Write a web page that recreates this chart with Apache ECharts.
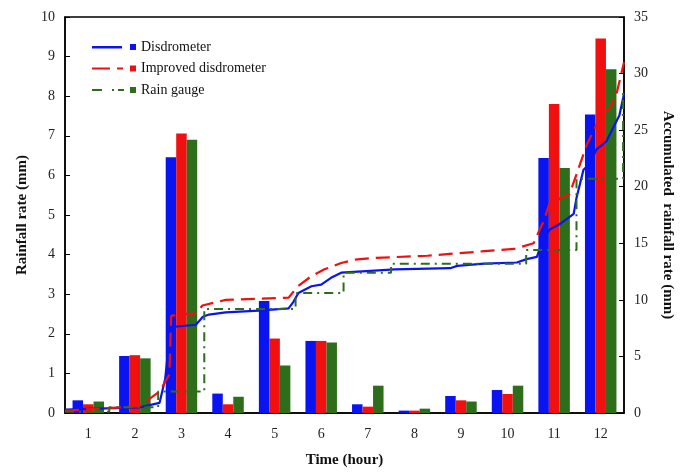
<!DOCTYPE html>
<html><head><meta charset="utf-8">
<script src="https://cdn.jsdelivr.net/npm/echarts@6/dist/echarts.min.js"></script>
<style>html,body{margin:0;padding:0;background:#fff}#c{width:683px;height:473px}</style>
</head><body><div id="c"></div>
<script>
const hours = ['1','2','3','4','5','6','7','8','9','10','11','12'];
const leftTicks = [0,1,2,3,4,5,6,7,8,9,10];
const rightTicks = [0,5,10,15,20,25,30,35];
// hourly rainfall (mm)
const disdroRate = [0.32,1.44,6.46,0.49,2.83,1.82,0.22,0.06,0.43,0.58,6.44,7.54];
const improvedRate = [0.22,1.46,7.06,0.22,1.88,1.82,0.16,0.06,0.32,0.48,7.80,9.46];
const gaugeRate = [0.29,1.38,6.90,0.41,1.20,1.78,0.69,0.11,0.29,0.69,6.19,8.68];
// accumulated rainfall [time (h), mm]
const disdroAcc = [[0,0.3],[1.6,0.5],[2.03,0.9],[2.15,3.0],[2.24,6.5],[2.3,7.6],[2.81,7.8],[2.96,8.5],[3.09,8.7],[3.45,8.9],[4.16,9.05],[4.8,9.25],[4.9,9.8],[5.01,10.6],[5.29,11.2],[5.5,11.35],[5.71,11.95],[5.93,12.4],[6.29,12.5],[7.08,12.7],[8.27,12.8],[8.42,13.0],[9.0,13.2],[9.7,13.3],[9.91,13.6],[10.13,13.8],[10.23,15.0],[10.4,16.2],[10.66,16.8],[10.92,17.6],[10.98,19.0],[11.13,21.5],[11.26,22.0],[11.41,23.3],[11.62,24.0],[11.73,24.9],[11.9,26.3],[12.0,28.2]];
const improvedAcc = [[0,0.2],[1.6,0.6],[2.03,1.9],[2.24,3.4],[2.28,8.6],[2.8,8.8],[2.95,9.5],[3.45,10.0],[4.8,10.2],[5.0,11.2],[5.29,12.1],[5.57,12.7],[5.93,13.26],[6.22,13.55],[6.6,13.7],[7.78,13.9],[9.0,14.3],[9.64,14.5],[10.06,15.0],[10.2,16.3],[10.28,17.0],[10.4,18.5],[10.83,19.35],[10.98,21.1],[11.2,23.7],[11.34,24.9],[11.47,26.0],[11.68,26.9],[11.83,28.05],[12.0,31.0]];
const gaugeAcc = [[0,0.1],[0.95,0.1],[0.95,0.5],[2.0,0.5],[2.0,1.9],[2.99,1.9],[2.99,9.2],[4.95,9.2],[4.95,10.6],[5.98,10.6],[5.98,12.4],[7.0,12.4],[7.0,13.2],[9.9,13.2],[9.9,14.4],[10.98,14.4],[10.98,20.7],[11.98,20.7],[11.98,28.5]];
const names = ['Disdrometer','Improved disdrometer','Rain gauge'];

const FONT = "'Liberation Serif','Times New Roman',serif";
const BLUE = '#0a14f0', RED = '#f01010', GREEN = '#2e6e1a';

const chart = echarts.init(document.getElementById('c'));
const barBase = {type:'bar', xAxisIndex:0, yAxisIndex:0, barWidth:10.5, barGap:'0%'};
chart.setOption({
  animation:false,
  grid:{left:65,right:55,top:17,bottom:54,show:true,borderColor:'#000',borderWidth:1.5,backgroundColor:'transparent'},
  legend:{
    orient:'vertical', left:92, top:40, padding:0, itemWidth:44, itemHeight:6, itemGap:7.5,
    textStyle:{fontFamily:FONT,fontSize:14,color:'#111'},
    itemStyle:{borderWidth:0},
    data:[
      {name:names[0], icon:'path://M0 2h30v2.5H0z M38 0h6v6h-6z'},
      {name:names[1], icon:'path://M0 2h18v2H0z M25 2h6v2h-6z M38 0h6v6h-6z'},
      {name:names[2], icon:'path://M0 2h10v2H0z M20 2h2v2h-2z M26 2h6v2h-6z M38 0h6v6h-6z'}
    ]
  },
  xAxis:[
    {type:'category', data:hours, boundaryGap:true,
     axisLine:{lineStyle:{color:'#000',width:1.5}}, axisTick:{show:false},
     axisLabel:{fontFamily:FONT,fontSize:14,color:'#222',margin:14},
     name:'Time (hour)', nameLocation:'middle', nameGap:40,
     nameTextStyle:{fontFamily:FONT,fontSize:15,fontWeight:'bold',color:'#111'}},
    {type:'value', min:0, max:12, show:false}
  ],
  yAxis:[
    {type:'value', min:0, max:10, interval:1, position:'left',
     axisLine:{show:true,lineStyle:{color:'#000',width:1.5}},
     axisTick:{show:true,inside:true,length:5,lineStyle:{color:'#000'}},
     splitLine:{show:false},
     axisLabel:{fontFamily:FONT,fontSize:14,color:'#222',margin:10,
       formatter:v=>leftTicks.includes(v)?String(v):''},
     name:'Rainfall rate (mm)', nameLocation:'middle', nameGap:30, nameRotate:90,
     nameTextStyle:{fontFamily:FONT,fontSize:15,fontWeight:'bold',color:'#111'}},
    {type:'value', min:0, max:35, interval:5, position:'right',
     axisLine:{show:true,lineStyle:{color:'#000',width:1.5}},
     axisTick:{show:true,inside:true,length:5,lineStyle:{color:'#000'}},
     splitLine:{show:false},
     axisLabel:{fontFamily:FONT,fontSize:14,color:'#222',margin:10,
       formatter:v=>rightTicks.includes(v)?String(v):''},
     name:'Accumulated  rainfall rate (mm)', nameLocation:'middle', nameGap:36, nameRotate:-90,
     nameTextStyle:{fontFamily:FONT,fontSize:15,fontWeight:'bold',color:'#111'}}
  ],
  series:[
    Object.assign({name:names[0], data:disdroRate, itemStyle:{color:BLUE}}, barBase),
    Object.assign({name:names[1], data:improvedRate, itemStyle:{color:RED}}, barBase),
    Object.assign({name:names[2], data:gaugeRate, itemStyle:{color:GREEN}}, barBase),
    {name:names[0], type:'line', xAxisIndex:1, yAxisIndex:1, data:disdroAcc, showSymbol:false,
     itemStyle:{color:BLUE}, lineStyle:{color:BLUE,width:2.2}},
    {name:names[1], type:'line', xAxisIndex:1, yAxisIndex:1, data:improvedAcc, showSymbol:false,
     itemStyle:{color:RED}, lineStyle:{color:RED,width:2.2,type:[14,7]}},
    {name:names[2], type:'line', xAxisIndex:1, yAxisIndex:1, data:gaugeAcc, showSymbol:false,
     itemStyle:{color:GREEN}, lineStyle:{color:GREEN,width:2,type:[9,5,2,5]}}
  ]
});
</script></body></html>
